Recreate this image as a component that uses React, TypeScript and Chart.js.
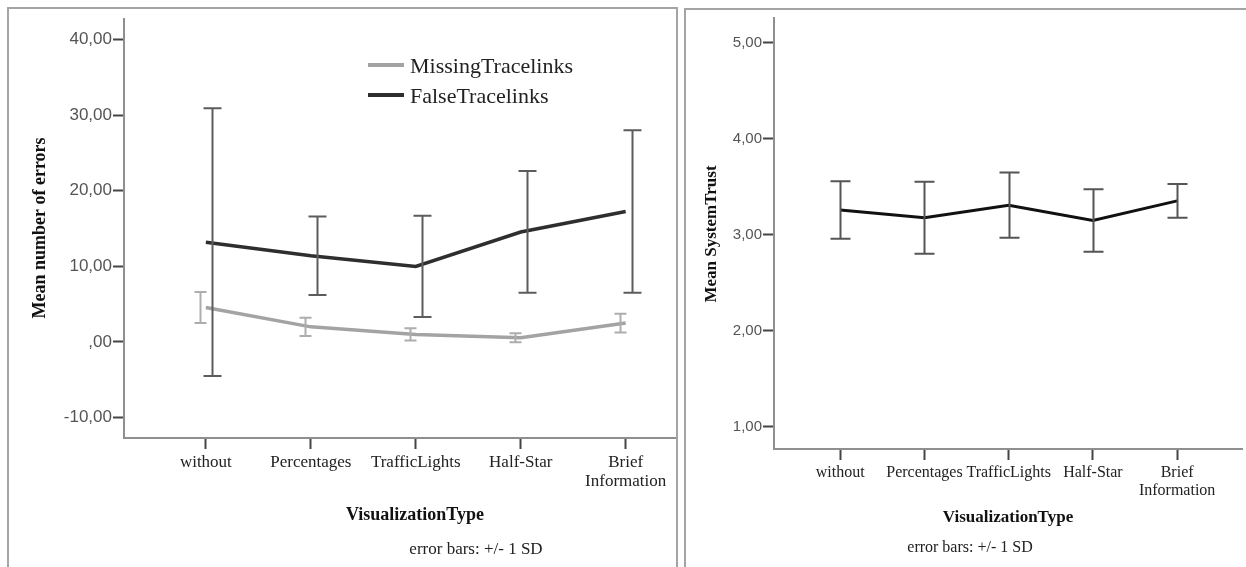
import React, { useEffect, useRef } from "react";
import { Chart, registerables } from "chart.js";
Chart.register(...registerables);

// ---- data ----
const categories: (string | string[])[] = ["without", "Percentages", "TrafficLights", "Half-Star", ["Brief", "Information"]];
const missingMean = [4.55, 2.0, 1.0, 0.55, 2.5];
const missingSD = [2.05, 1.2, 0.8, 0.6, 1.25];
const falseMean = [13.2, 11.4, 10.0, 14.55, 17.25];
const falseSD = [17.7, 5.2, 6.7, 8.05, 10.75];
const trustMean = [3.26, 3.18, 3.31, 3.15, 3.355];
const trustSD = [0.3, 0.375, 0.34, 0.325, 0.175];
const errorsTicks = [-10, 0, 10, 20, 30, 40];
const trustTicks = [1, 2, 3, 4, 5];
const leftYTitle = "Mean number of errors";
const rightYTitle = "Mean SystemTrust";
const xTitle = "VisualizationType";
const footnote = "error bars: +/- 1 SD";

const fmt = (v: number) => {
  const a = Math.abs(v);
  let s = a.toFixed(2).replace(".", ",");
  if (a < 1) s = s.replace(/^0/, "");
  return (v < 0 ? "-" : "") + s;
};

const toPts = (arr: number[]) => arr.map((y, i) => ({ x: i, y }));

const errorBarPlugin = {
  id: "errorBars",
  afterDatasetsDraw(chart: any) {
    const { ctx } = chart;
    const xs = chart.scales.x;
    const ys = chart.scales.y;
    chart.data.datasets.forEach((ds: any) => {
      if (!ds.sd) return;
      ctx.save();
      ctx.strokeStyle = ds.errorColor;
      ctx.lineWidth = ds.errorWidth;
      ds.data.forEach((p: any, i: number) => {
        const px = Math.round(xs.getPixelForValue(p.x) + ds.errorOffset) + 0.5;
        const top = ys.getPixelForValue(p.y + ds.sd[i]);
        const bot = ys.getPixelForValue(p.y - ds.sd[i]);
        ctx.beginPath();
        ctx.moveTo(px, top);
        ctx.lineTo(px, bot);
        ctx.moveTo(px - ds.capHalf, top);
        ctx.lineTo(px + ds.capHalf, top);
        ctx.moveTo(px - ds.capHalf, bot);
        ctx.lineTo(px + ds.capHalf, bot);
        ctx.stroke();
      });
      ctx.restore();
    });
  },
};

type TextSpec = {
  yTitle: string; yTitleX: number; yTitleY: number; yTitleFont: string;
  xTitleX: number; xTitleY: number; xTitleFont: string;
  footX: number; footY: number; footFont: string;
  legend?: { x1: number; x2: number; textX: number; ys: number[]; font: string };
};

const makeTextPlugin = (t: TextSpec) => ({
  id: "texts",
  afterDraw(chart: any) {
    const { ctx } = chart;
    ctx.save();
    ctx.fillStyle = "#111";
    ctx.textAlign = "center";
    ctx.textBaseline = "middle";
    ctx.font = t.xTitleFont;
    ctx.fillText(xTitle, t.xTitleX, t.xTitleY);
    ctx.font = t.footFont;
    ctx.fillStyle = "#222";
    ctx.fillText(footnote, t.footX, t.footY);
    ctx.save();
    ctx.translate(t.yTitleX, t.yTitleY);
    ctx.rotate(-Math.PI / 2);
    ctx.font = t.yTitleFont;
    ctx.fillStyle = "#111";
    ctx.fillText(t.yTitle, 0, 0);
    ctx.restore();
    if (t.legend) {
      const L = t.legend;
      chart.data.datasets.forEach((ds: any, i: number) => {
        const y = L.ys[i];
        ctx.strokeStyle = ds.borderColor;
        ctx.lineWidth = 4;
        ctx.beginPath();
        ctx.moveTo(L.x1, y);
        ctx.lineTo(L.x2, y);
        ctx.stroke();
        ctx.fillStyle = "#222";
        ctx.font = L.font;
        ctx.textAlign = "left";
        ctx.fillText(ds.label, L.textX, y + 2);
      });
    }
    ctx.restore();
  },
});

function buildOptions(cfg: {
  yMin: number; yMax: number; yTicks: number[]; xMin: number; xMax: number;
  yWidth: number; xHeight: number; padTop: number; padRight: number;
  yTickFont: number; xTickFont: number;
}) {
  return {
    responsive: false,
    animation: false,
    devicePixelRatio: 1,
    layout: { padding: { top: cfg.padTop, right: cfg.padRight, left: 0, bottom: 0 } },
    plugins: { legend: { display: false }, tooltip: { enabled: false }, title: { display: false } },
    elements: { point: { radius: 0 }, line: { tension: 0 } },
    scales: {
      x: {
        type: "linear",
        min: cfg.xMin,
        max: cfg.xMax,
        afterBuildTicks: (s: any) => { s.ticks = categories.map((_, i) => ({ value: i })); },
        afterFit: (s: any) => { s.height = cfg.xHeight; },
        grid: { drawOnChartArea: false, drawTicks: true, tickLength: 11, tickColor: "#444", tickWidth: 2 },
        border: { display: true, color: "#8f8f8f", width: 2 },
        ticks: {
          autoSkip: false,
          maxRotation: 0,
          padding: 4,
          color: "#222",
          font: { family: "'Liberation Serif', serif", size: cfg.xTickFont, lineHeight: 1.1 },
          callback: (v: any) => categories[Math.round(v)] as any,
        },
      },
      y: {
        type: "linear",
        min: cfg.yMin,
        max: cfg.yMax,
        afterBuildTicks: (s: any) => { s.ticks = cfg.yTicks.map((v) => ({ value: v })); },
        afterFit: (s: any) => { s.width = cfg.yWidth; },
        grid: { drawOnChartArea: false, drawTicks: true, tickLength: 11, tickColor: "#444", tickWidth: 2 },
        border: { display: true, color: "#8f8f8f", width: 2 },
        ticks: {
          padding: 1,
          color: "#555",
          font: { family: "'Liberation Sans', sans-serif", size: cfg.yTickFont },
          callback: (v: any) => fmt(Number(v)),
        },
      },
    },
  } as any;
}

export default function App() {
  const leftRef = useRef<HTMLCanvasElement>(null);
  const rightRef = useRef<HTMLCanvasElement>(null);

  useEffect(() => {
    const left = new Chart(leftRef.current as HTMLCanvasElement, {
      type: "line",
      data: {
        datasets: [
          {
            label: "MissingTracelinks",
            data: toPts(missingMean),
            borderColor: "#a3a3a3",
            borderWidth: 3.5,
            sd: missingSD, errorColor: "#adadad", errorWidth: 2, errorOffset: -6, capHalf: 6,
          } as any,
          {
            label: "FalseTracelinks",
            data: toPts(falseMean),
            borderColor: "#2e2e2e",
            borderWidth: 3.5,
            sd: falseSD, errorColor: "#5c5c5c", errorWidth: 2, errorOffset: 6, capHalf: 9,
          } as any,
        ],
      },
      options: buildOptions({
        yMin: -12.7, yMax: 42.72, yTicks: errorsTicks, xMin: -0.78, xMax: 4.47,
        yWidth: 124, xHeight: 129, padTop: 19, padRight: 6, yTickFont: 17, xTickFont: 17,
      }),
      plugins: [
        errorBarPlugin,
        makeTextPlugin({
          yTitle: leftYTitle, yTitleX: 40, yTitleY: 228, yTitleFont: "bold 18px 'Liberation Serif', serif",
          xTitleX: 415, xTitleY: 515, xTitleFont: "bold 18px 'Liberation Serif', serif",
          footX: 476, footY: 550, footFont: "17px 'Liberation Serif', serif",
          legend: { x1: 368, x2: 404, textX: 410, ys: [65, 95], font: "22px 'Liberation Serif', serif" },
        }),
      ],
    });

    const right = new Chart(rightRef.current as HTMLCanvasElement, {
      type: "line",
      data: {
        datasets: [
          {
            label: "SystemTrust",
            data: toPts(trustMean),
            borderColor: "#111111",
            borderWidth: 3,
            sd: trustSD, errorColor: "#555555", errorWidth: 2, errorOffset: 0, capHalf: 10,
          } as any,
        ],
      },
      options: buildOptions({
        yMin: 0.77, yMax: 5.26, yTicks: trustTicks, xMin: -0.786, xMax: 4.77,
        yWidth: 87, xHeight: 118, padTop: 18, padRight: 4, yTickFont: 15, xTickFont: 16,
      }),
      plugins: [
        errorBarPlugin,
        makeTextPlugin({
          yTitle: rightYTitle, yTitleX: 25, yTitleY: 234, yTitleFont: "bold 17px 'Liberation Serif', serif",
          xTitleX: 321, xTitleY: 518, xTitleFont: "bold 17px 'Liberation Serif', serif",
          footX: 283, footY: 548, footFont: "16px 'Liberation Serif', serif",
        }),
      ],
    });

    return () => {
      left.destroy();
      right.destroy();
    };
  }, []);

  return (
    <div style={{ position: "absolute", left: 0, top: 0, width: 1246, height: 567, overflow: "hidden", background: "#fff" }}>
      <div style={{ position: "absolute", left: 7, top: 7, width: 671, height: 640, boxSizing: "border-box", border: "2px solid #a4a4a4" }} />
      <div style={{ position: "absolute", left: 684, top: 8, width: 640, height: 640, boxSizing: "border-box", border: "2px solid #a4a4a4" }} />
      <canvas ref={leftRef} width={681} height={567} style={{ position: "absolute", left: 0, top: 0, width: 681, height: 567 }} />
      <canvas ref={rightRef} width={559} height={567} style={{ position: "absolute", left: 687, top: 0, width: 559, height: 567 }} />
    </div>
  );
}
